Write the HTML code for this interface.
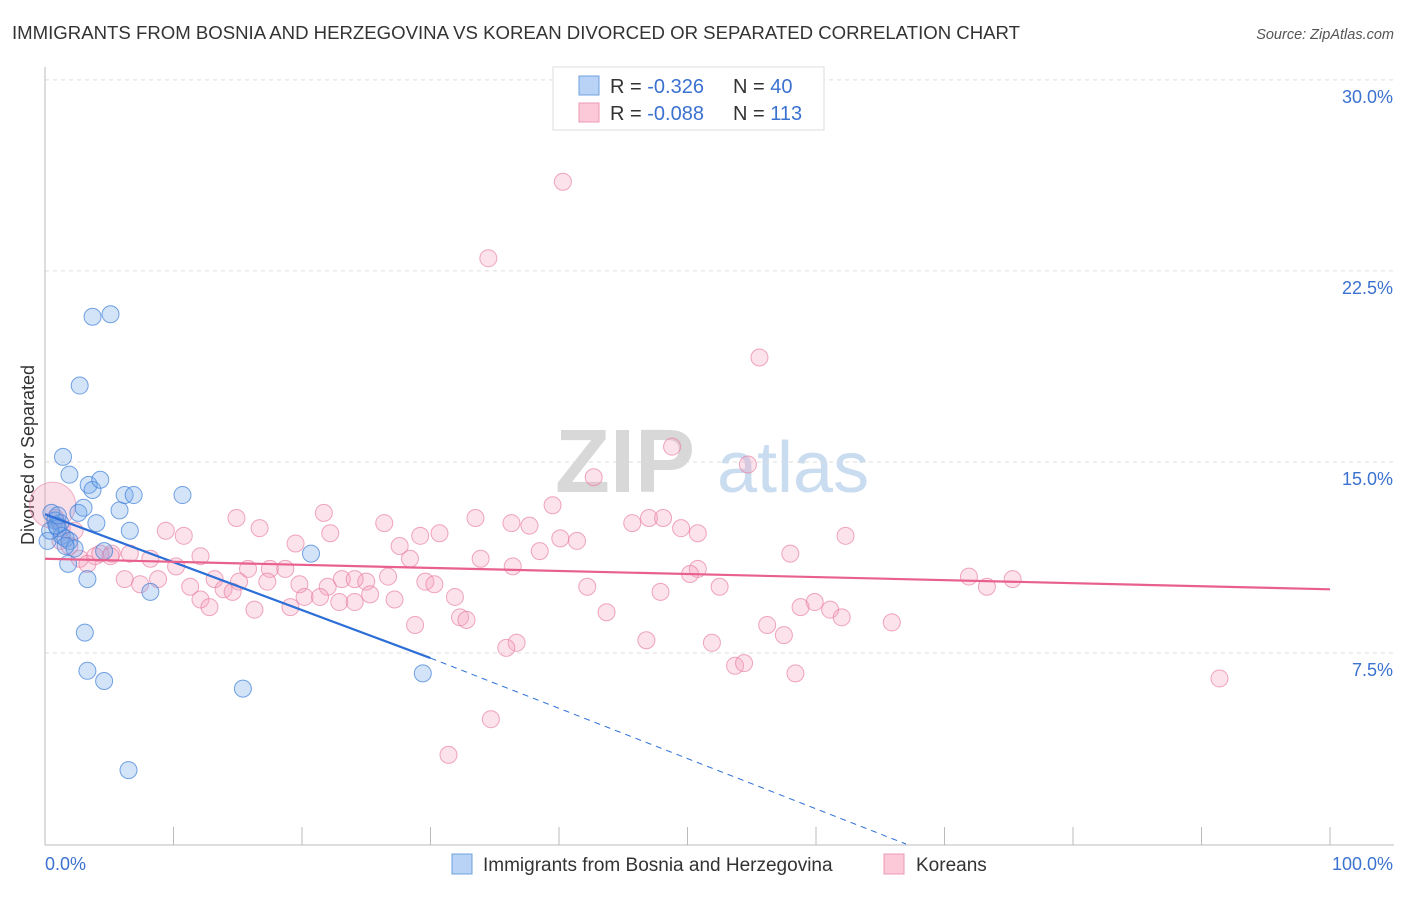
<!DOCTYPE html>
<html><head><meta charset="utf-8"><style>
body{margin:0;background:#fff;font-family:"Liberation Sans",sans-serif}
svg text{font-family:"Liberation Sans",sans-serif}
</style></head><body>
<svg id="chart" width="1406" height="892">
<text x="12" y="39" font-size="18" fill="#333" textLength="1008" lengthAdjust="spacingAndGlyphs">IMMIGRANTS FROM BOSNIA AND HERZEGOVINA VS KOREAN DIVORCED OR SEPARATED CORRELATION CHART</text>
<text x="1394" y="39" font-size="14.5" fill="#555" font-style="italic" text-anchor="end">Source: ZipAtlas.com</text>
<text transform="translate(34,455) rotate(-90)" font-size="18" fill="#333" text-anchor="middle">Divorced or Separated</text>
<g>
<text x="555" y="492" font-size="90" font-family="Liberation Serif" font-weight="bold" fill="#d8d8d8">ZIP</text>
<text x="717" y="492" font-size="72" fill="#c9dcf0">atlas</text>
</g>
<g id="grid"></g><g id="axes"></g><g id="pts"></g><g id="lines"></g>
<g>
<rect x="553" y="67" width="271" height="63" fill="#fff" stroke="#ddd"/>
<rect x="579" y="76" width="20" height="19" fill="#b8d3f5" stroke="#6fa2e0"/>
<rect x="579" y="103" width="20" height="19" fill="#fbc9d8" stroke="#ec9ab4"/>
<text x="610" y="93" font-size="20" fill="#333">R = <tspan fill="#3b72d0">-0.326</tspan></text>
<text x="733" y="93" font-size="20" fill="#333">N = <tspan fill="#3b72d0">40</tspan></text>
<text x="610" y="120" font-size="20" fill="#333">R = <tspan fill="#3b72d0">-0.088</tspan></text>
<text x="733" y="120" font-size="20" fill="#333">N = <tspan fill="#3b72d0">113</tspan></text>
</g>
<g>
<rect x="452" y="854" width="20" height="20" fill="#b8d3f5" stroke="#6fa2e0"/>
<text x="483" y="871" font-size="19" fill="#333">Immigrants from Bosnia and Herzegovina</text>
<rect x="884" y="854" width="20" height="20" fill="#fbc9d8" stroke="#ec9ab4"/>
<text x="916" y="871" font-size="19" fill="#333">Koreans</text>
</g>
</svg>
<script>
const yTicks=[7.5,15,22.5,30];
const yTickLabels=["7.5%","15.0%","22.5%","30.0%"];
const xTicks=[0,10,20,30,40,50,60,70,80,90,100];
const blueX=[0.2,0.5,0.8,1.0,1.2,1.3,1.6,1.8,1.9,2.3,2.6,2.7,3.0,3.1,3.3,3.3,3.4,3.7,3.7,4.0,4.3,4.6,4.6,5.1,5.8,6.2,6.5,6.6,6.9,8.2,10.7,15.4,20.7,29.4,1.9,1.4,0.4,0.9,1.6,1.0];
const blueY=[11.9,13.0,12.7,12.4,12.6,12.1,12.0,11.0,11.9,11.6,13.0,18.0,13.2,8.3,6.8,10.4,14.1,13.9,20.7,12.6,14.3,6.4,11.5,20.8,13.1,13.7,2.9,12.3,13.7,9.9,13.7,6.1,11.4,6.7,14.5,15.2,12.3,12.5,11.7,12.9];
const pinkX=[40.3,34.5,55.6,48.8,54.7,42.7,39.5,21.7,33.5,26.4,36.3,37.7,14.9,16.7,9.4,10.8,22.2,40.1,41.4,45.7,47.0,48.1,49.5,50.8,62.3,19.5,27.6,29.2,30.7,28.4,33.9,38.5,36.4,58.0,50.8,50.2,71.9,75.3,73.3,12.1,8.2,6.6,5.2,3.9,2.7,3.3,10.2,15.8,17.5,18.7,13.2,17.3,15.1,19.8,22.0,23.1,24.1,25.0,26.7,29.6,30.3,6.2,7.4,8.8,11.3,13.9,14.6,20.2,21.4,25.3,27.2,31.9,22.9,24.1,12.1,12.8,19.1,16.3,42.2,47.9,52.5,43.7,58.8,59.9,61.1,62.0,65.9,56.2,57.5,28.8,32.3,32.8,36.7,35.9,46.8,51.9,53.7,54.4,58.4,91.4,34.7,31.4,1.2,1.9,2.3,0.8,1.3,4.3,5.1];
const pinkY=[26.0,23.0,19.1,15.6,14.9,14.4,13.3,13.0,12.8,12.6,12.6,12.5,12.8,12.4,12.3,12.1,12.2,12.0,11.9,12.6,12.8,12.8,12.4,12.2,12.1,11.8,11.7,12.1,12.2,11.2,11.2,11.5,10.9,11.4,10.8,10.6,10.5,10.4,10.1,11.3,11.2,11.4,11.4,11.3,11.2,11.0,10.9,10.8,10.8,10.8,10.4,10.3,10.3,10.2,10.1,10.4,10.4,10.3,10.5,10.3,10.2,10.4,10.2,10.4,10.1,10.0,9.9,9.7,9.7,9.8,9.6,9.7,9.5,9.5,9.6,9.3,9.3,9.2,10.1,9.9,10.1,9.1,9.3,9.5,9.2,8.9,8.7,8.6,8.2,8.6,8.9,8.8,7.9,7.7,8.0,7.9,7.0,7.1,6.7,6.5,4.9,3.5,11.9,11.7,12.3,12.8,12.4,11.4,11.3];
const blueTrend=[[0,12.95],[30,7.3]];
const blueTrendExt=[[30,7.3],[67,0]];
const pinkTrend=[[0,11.2],[100,10.0]];
const NS='http://www.w3.org/2000/svg';
const X=v=>45+v*12.85, Y=v=>844-v*25.47;
function mk(tag,attrs,parent){const e=document.createElementNS(NS,tag);for(const k in attrs)e.setAttribute(k,attrs[k]);document.getElementById(parent).appendChild(e);return e;}
yTicks.forEach((t,i)=>{
 const l=mk('line',{x1:45,x2:1394,y1:Y(t),y2:Y(t),stroke:'#ddd','stroke-dasharray':'4,4'},'grid');
 
 
 const tx=mk('text',{x:1393,y:Y(t)+23,'font-size':18,fill:'#3b72d0','text-anchor':'end'},'grid');
 tx.textContent=yTickLabels[i];
 
 
});
const ya=mk('line',{x1:45,x2:45,y1:67,y2:845,stroke:'#bbb'},'axes');


const xa=mk('line',{x1:45,x2:1394,y1:845,y2:845,stroke:'#bbb'},'axes');


xTicks.forEach(t=>{const l=mk('line',{x1:X(t),x2:X(t),y1:827,y2:845,stroke:'#bbb'},'axes');
 
 });
[['0.0%',45,'start'],['100.0%',1393,'end']].forEach(a=>{const t=mk('text',{x:a[1],y:870,'font-size':18,fill:'#3b72d0','text-anchor':a[2]},'axes');t.textContent=a[0];
 
 });
const big=mk('circle',{cx:X(0.6),cy:Y(13.3),r:23,fill:'rgba(240,150,180,0.3)',stroke:'rgba(232,130,165,0.6)'},'pts');


pinkX.forEach((v,i)=>{const c=mk('circle',{cx:X(v),cy:Y(pinkY[i]),r:8.5,fill:'rgba(245,160,190,0.3)',stroke:'rgba(232,130,165,0.7)'},'pts');
 
 });
blueX.forEach((v,i)=>{const c=mk('circle',{cx:X(v),cy:Y(blueY[i]),r:8.5,fill:'rgba(110,165,235,0.3)',stroke:'rgba(60,125,215,0.7)'},'pts');
 
 });
const bl=mk('line',{x1:X(blueTrend[0][0]),y1:Y(blueTrend[0][1]),x2:X(blueTrend[1][0]),y2:Y(blueTrend[1][1]),stroke:'#2d6fd6','stroke-width':2.2},'lines');


const bd=mk('line',{x1:X(blueTrendExt[0][0]),y1:Y(blueTrendExt[0][1]),x2:X(blueTrendExt[1][0]),y2:Y(blueTrendExt[1][1]),stroke:'#2d6fd6','stroke-width':1,'stroke-dasharray':'6,5'},'lines');


const pl=mk('line',{x1:X(pinkTrend[0][0]),y1:Y(pinkTrend[0][1]),x2:X(pinkTrend[1][0]),y2:Y(pinkTrend[1][1]),stroke:'#e8608c','stroke-width':2.2},'lines');


</script>
</body></html>
